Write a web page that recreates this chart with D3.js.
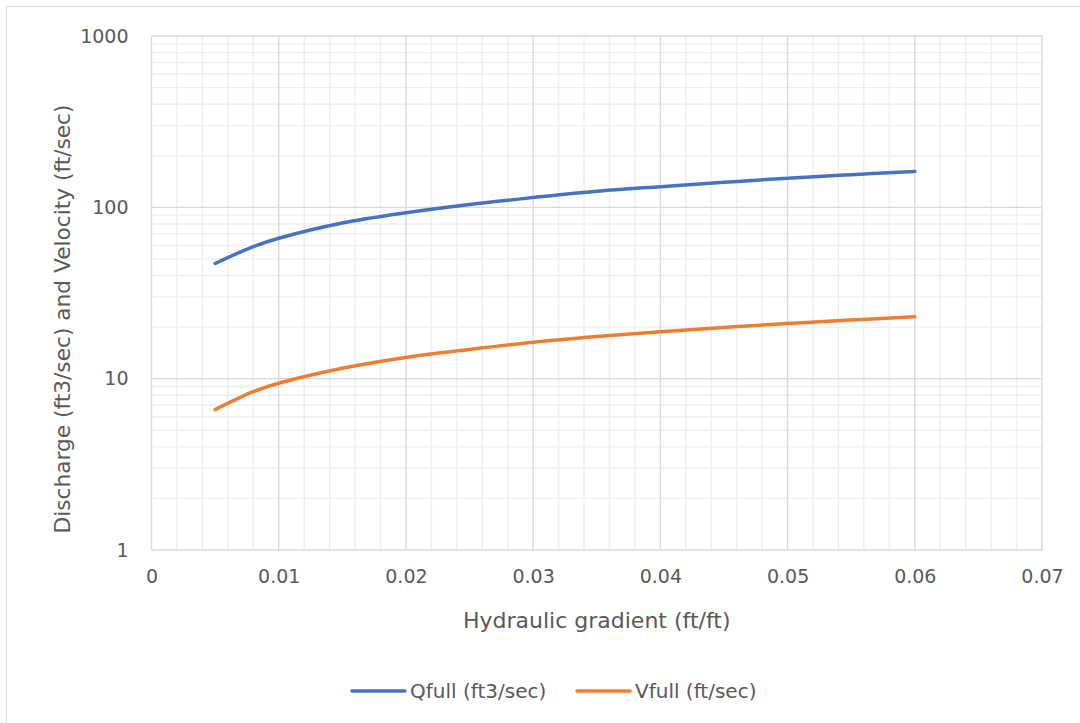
<!DOCTYPE html>
<html>
<head>
<meta charset="utf-8">
<script src="https://cdn.jsdelivr.net/npm/d3@7"></script>
<style>
  body { margin: 0; background: #fff; }
  svg { display: block; font-family: "DejaVu Sans", sans-serif; }
</style>
</head>
<body>
<svg id="chart" width="1080" height="723"></svg>
<script>
// Values.
var gradients = [0.005, 0.008, 0.01, 0.015, 0.02, 0.025, 0.03, 0.035, 0.04, 0.045, 0.05, 0.055, 0.06];
var qfull = [47, 59, 66, 81, 93, 104, 114, 124, 132, 140, 148, 155, 162];
var vfull = [6.6, 8.4, 9.4, 11.5, 13.3, 14.8, 16.3, 17.6, 18.8, 19.9, 21.0, 22.0, 23.0];
var xTicks = [0, 0.01, 0.02, 0.03, 0.04, 0.05, 0.06, 0.07];
var yTicks = [1, 10, 100, 1000];
var seriesNames = ["Qfull (ft3/sec)", "Vfull (ft/sec)"];
var seriesColors = ["#4472c4", "#ed7d31"];

(function () {
    var svg = d3.select("#chart"),
        plotLeft = 151.5,
        plotRight = 1042,
        plotTop = 36,
        plotBottom = 550,
        textColor = "#595959";

    var x = d3.scaleLinear().domain([0, 0.07]).range([plotLeft, plotRight]);
    var y = d3.scaleLog().domain([1, 1000]).range([plotBottom, plotTop]);

    // Chart area border (only top and left visible in the reference).
    svg.append("path")
        .attr("d", "M6.5,723V6.5H1080")
        .attr("fill", "none")
        .attr("stroke", "#d9d9d9");

    // Minor gridlines.
    var minorX = d3.range(0, 0.0701, 0.002).filter(function (d) {
        return Math.abs(d / 0.01 - Math.round(d / 0.01)) > 1e-6;
    });
    var minorY = [];
    [1, 10, 100].forEach(function (dec) {
        d3.range(2, 10).forEach(function (m) { minorY.push(dec * m); });
    });

    var grid = svg.append("g");
    grid.selectAll(".mx").data(minorX).enter().append("line")
        .attr("x1", function (d) { return x(d); })
        .attr("x2", function (d) { return x(d); })
        .attr("y1", plotTop).attr("y2", plotBottom)
        .attr("stroke", "#eeeeee").attr("stroke-width", 1.4);
    grid.selectAll(".my").data(minorY).enter().append("line")
        .attr("x1", plotLeft).attr("x2", plotRight)
        .attr("y1", function (d) { return y(d); })
        .attr("y2", function (d) { return y(d); })
        .attr("stroke", "#eeeeee").attr("stroke-width", 1.4);

    // Major gridlines.
    grid.selectAll(".Mx").data(xTicks).enter().append("line")
        .attr("x1", function (d) { return x(d); })
        .attr("x2", function (d) { return x(d); })
        .attr("y1", plotTop).attr("y2", plotBottom)
        .attr("stroke", "#d9d9d9").attr("stroke-width", 1.4);
    grid.selectAll(".My").data(yTicks).enter().append("line")
        .attr("x1", plotLeft).attr("x2", plotRight)
        .attr("y1", function (d) { return y(d); })
        .attr("y2", function (d) { return y(d); })
        .attr("stroke", "#d9d9d9").attr("stroke-width", 1.4);

    // Tick labels via d3 axes, domain and tick marks hidden.
    var xAxis = svg.append("g")
        .attr("transform", "translate(0," + plotBottom + ")")
        .call(d3.axisBottom(x).tickValues(xTicks).tickSize(0).tickPadding(20)
            .tickFormat(function (d) { return d === 0 ? "0" : d3.format(".2f")(d); }));
    var yAxis = svg.append("g")
        .attr("transform", "translate(" + plotLeft + ",0)")
        .call(d3.axisLeft(y).tickValues(yTicks).tickSize(0).tickPadding(23)
            .tickFormat(d3.format("d")));
    [xAxis, yAxis].forEach(function (a) {
        a.select(".domain").remove();
        a.selectAll("text")
            .attr("fill", textColor)
            .style("font-size", "19px")
            .style("font-family", "'DejaVu Sans', sans-serif");
    });

    // Series lines.
    var line = d3.line()
        .x(function (d) { return x(d[0]); })
        .y(function (d) { return y(d[1]); })
        .curve(d3.curveCatmullRom.alpha(0.5));

    [qfull, vfull].forEach(function (vals, i) {
        svg.append("path")
            .datum(gradients.map(function (g, j) { return [g, vals[j]]; }))
            .attr("d", line)
            .attr("fill", "none")
            .attr("stroke", seriesColors[i])
            .attr("stroke-width", 3.5)
            .attr("stroke-linecap", "round");
    });

    // Axis titles.
    svg.append("text")
        .attr("x", (plotLeft + plotRight) / 2)
        .attr("y", 628)
        .attr("text-anchor", "middle")
        .attr("fill", textColor)
        .style("font-size", "22px")
        .text("Hydraulic gradient (ft/ft)");

    svg.append("text")
        .attr("transform", "translate(70,319) rotate(-90)")
        .attr("text-anchor", "middle")
        .attr("fill", textColor)
        .style("font-size", "21.7px")
        .text("Discharge (ft3/sec) and Velocity (ft/sec)");

    // Legend.
    var legendX = [352, 577];
    seriesNames.forEach(function (name, i) {
        var g = svg.append("g").attr("transform", "translate(" + legendX[i] + ",691)");
        g.append("line")
            .attr("x1", 0).attr("x2", 53)
            .attr("stroke", seriesColors[i])
            .attr("stroke-width", 3.5)
            .attr("stroke-linecap", "round");
        g.append("text")
            .attr("x", 58)
            .attr("y", 7)
            .attr("fill", textColor)
            .style("font-size", "20px")
            .text(name);
    });
}());
</script>
</body>
</html>
